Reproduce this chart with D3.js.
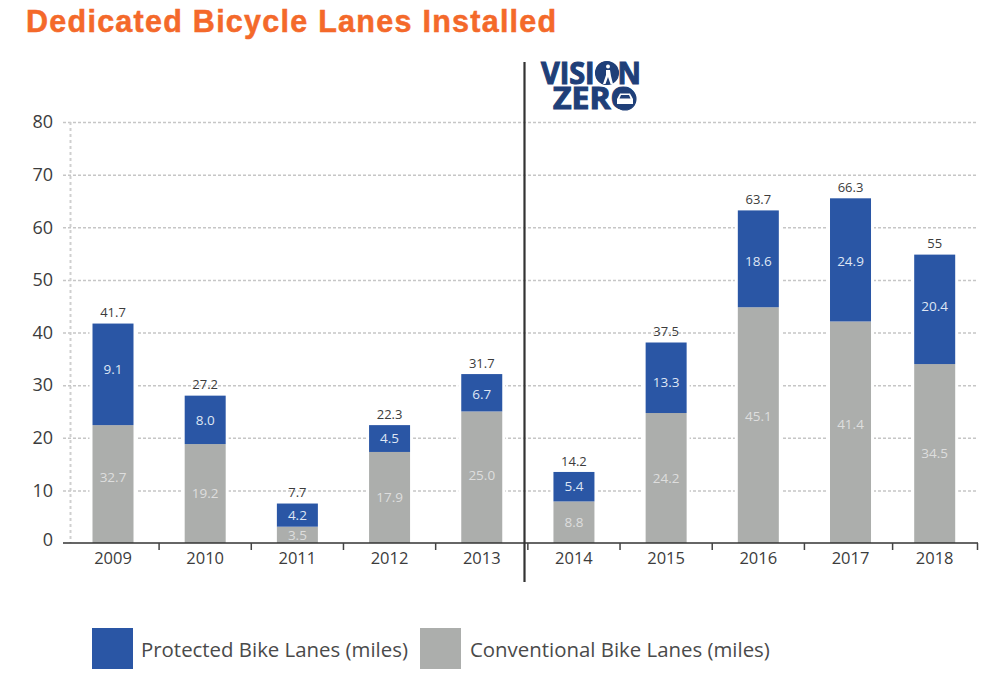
<!DOCTYPE html>
<html>
<head>
<meta charset="utf-8">
<script src="https://cdn.jsdelivr.net/npm/d3@7"></script>
<style>
  html, body { margin: 0; padding: 0; background: #fff; }
  text { font-family: "Open Sans", "Noto Sans", sans-serif; }
  .year-label text { font-size: 16.5px; fill: #3c3c3c; }
  .y-axis text { font-size: 18px; fill: #3c3c3c; }
  .total-label { font-size: 13px; fill: #3c3c3c; text-anchor: middle; }
  .inner-label { font-size: 13.5px; text-anchor: middle; }
  .legend-label { font-size: 20.4px; fill: #4a4a4a; }
</style>
</head>
<body>
<div id="chart"></div>
<script>
const years = ["2009", "2010", "2011", "2012", "2013", "2014", "2015", "2016", "2017", "2018"];

// segment heights as drawn in the picture (2009 does not agree with its printed label)
const protectedMiles = [19.3, 9.2, 4.4, 5.1, 7.1, 5.6, 13.4, 18.4, 23.4, 20.8];
const conventionalMiles = [22.4, 18.8, 3.1, 17.3, 25.0, 7.9, 24.7, 44.8, 42.1, 34.0];

// labels as printed
const protectedLabels = ["9.1", "8.0", "4.2", "4.5", "6.7", "5.4", "13.3", "18.6", "24.9", "20.4"];
const conventionalLabels = ["32.7", "19.2", "3.5", "17.9", "25.0", "8.8", "24.2", "45.1", "41.4", "34.5"];
const totalLabels = ["41.7", "27.2", "7.7", "22.3", "31.7", "14.2", "37.5", "63.7", "66.3", "55"];

const yTicks = [0, 10, 20, 30, 40, 50, 60, 70, 80];
const seriesNames = ["Conventional", "Protected"];
const legendLabels = ["Protected Bike Lanes (miles)", "Conventional Bike Lanes (miles)"];

const width = 1000, height = 690;
const colors = {Protected: "#2a56a5", Conventional: "#acaeac"};
const navy = "#1f3f78";

const svg = d3.select("#chart")
  .append("svg")
    .attr("width", width)
    .attr("height", height)
    .style("display", "block");

// the last bar sits closer to 2017 than the regular spacing
const lastYearShift = -8;
const xPoint = d3.scalePoint().domain(years).range([113, 942.7]);
const x = d => xPoint(d) + (d === "2018" ? lastYearShift : 0);
const barWidth = 41;

const y = d3.scaleLinear().domain([0, 80]).range([543, 122]);

// title
svg.append("text")
    .attr("x", 26)
    .attr("y", 32)
    .style("font-family", "'Liberation Sans', sans-serif")
    .style("font-weight", "700")
    .style("font-size", "30.5px")
    .style("letter-spacing", "1.26px")
    .attr("fill", "#f4692a")
    .attr("stroke", "#f4692a")
    .attr("stroke-width", 0.5)
    .text("Dedicated Bicycle Lanes Installed");

// y axis and dotted grid
const gridRight = 978, gridLeft = 63;
const yAxis = svg.append("g")
    .attr("class", "y-axis")
    .attr("transform", `translate(${gridLeft},0)`)
    .call(d3.axisLeft(y).tickValues(yTicks).tickSize(0).tickPadding(10));
yAxis.select(".domain").remove();
// the 0 label sits a little above the baseline in the source
yAxis.selectAll(".tick").filter(d => d === 0).select("text").attr("y", -3);
yAxis.selectAll(".tick").filter(d => d > 0).append("line")
    .attr("x1", 0)
    .attr("x2", gridRight - gridLeft)
    .attr("stroke", "#c6c6c6")
    .attr("stroke-width", 1.5)
    .attr("stroke-dasharray", "3 2");

svg.append("line")
    .attr("x1", 70.5).attr("x2", 70.5)
    .attr("y1", y(80)).attr("y2", y(0))
    .attr("stroke", "#cfcfcf")
    .attr("stroke-width", 2)
    .attr("stroke-dasharray", "3 3");

// stacked bars
const rows = years.map((year, i) => ({
  year,
  Protected: protectedMiles[i],
  Conventional: conventionalMiles[i]
}));
const stacked = d3.stack().keys(seriesNames)(rows);

// white halo so the grid stops just short of each bar
svg.append("g").selectAll("rect")
  .data(rows)
  .join("rect")
    .attr("x", d => x(d.year) - barWidth / 2 - 3)
    .attr("width", barWidth + 6)
    .attr("y", d => y(d.Protected + d.Conventional))
    .attr("height", d => y(0) - y(d.Protected + d.Conventional))
    .attr("fill", "#fff");

svg.append("g").selectAll("g")
  .data(stacked)
  .join("g")
    .attr("fill", d => colors[d.key])
  .selectAll("rect")
  .data(d => d)
  .join("rect")
    .attr("x", d => x(d.data.year) - barWidth / 2)
    .attr("width", barWidth)
    .attr("y", d => y(d[1]))
    .attr("height", d => y(d[0]) - y(d[1]));

// printed labels do not always sit mid-segment in the source
const protectedNudge = {2009: -5, 2013: 2, 2015: 5, 2016: 2.5, 2017: 1.5, 2018: -3};
const conventionalNudge = {2009: -7, 2013: -2, 2016: -9, 2017: -8};

svg.append("g").selectAll("text")
  .data(rows)
  .join("text")
    .attr("class", "inner-label")
    .attr("x", d => x(d.year))
    .attr("y", d => y(d.Conventional + d.Protected / 2) + (protectedNudge[d.year] || 0))
    .attr("dy", "0.35em")
    .attr("fill", "#dfe6f4")
    .text((d, i) => protectedLabels[i]);

svg.append("g").selectAll("text")
  .data(rows)
  .join("text")
    .attr("class", "inner-label")
    .attr("x", d => x(d.year))
    .attr("y", d => y(d.Conventional / 2) + (conventionalNudge[d.year] || 0))
    .attr("dy", "0.35em")
    .attr("fill", "#dedede")
    .text((d, i) => conventionalLabels[i]);

svg.append("g").selectAll("text")
  .data(rows)
  .join("text")
    .attr("class", "total-label")
    .attr("x", d => x(d.year))
    .attr("y", d => y(d.Protected + d.Conventional) - 11)
    .attr("dy", "0.35em")
    .text((d, i) => totalLabels[i]);

// x axis: baseline, tick marks between the years, year labels
svg.append("line")
    .attr("x1", gridLeft).attr("x2", gridRight)
    .attr("y1", y(0)).attr("y2", y(0))
    .attr("stroke", "#333")
    .attr("stroke-width", 1.5);

const tickAt = years.slice(1).map((year, i) => (x(years[i]) + x(year)) / 2).concat([gridRight - 0.5]);
svg.append("g").selectAll("line")
  .data(tickAt)
  .join("line")
    .attr("x1", d => d).attr("x2", d => d)
    .attr("y1", y(0)).attr("y2", y(0) + 7)
    .attr("stroke", "#444")
    .attr("stroke-width", 1.5);

svg.append("g")
    .attr("class", "year-label")
  .selectAll("text")
  .data(years)
  .join("text")
    .attr("x", d => x(d))
    .attr("y", 558)
    .attr("dy", "0.35em")
    .attr("text-anchor", "middle")
    .text(d => d);

// Vision Zero divider
svg.append("line")
    .attr("x1", 524.5).attr("x2", 524.5)
    .attr("y1", 62).attr("y2", 582)
    .attr("stroke", "#333")
    .attr("stroke-width", 2.2);

// Vision Zero logo
const logo = svg.append("g")
    .style("font-family", "'Liberation Sans', sans-serif")
    .style("font-weight", "700")
    .style("font-size", "30px")
    .attr("fill", navy)
    .attr("stroke", navy)
    .attr("stroke-width", 1.1);
logo.append("text")
    .attr("x", 541).attr("y", 84)
    .attr("textLength", 100).attr("lengthAdjust", "spacingAndGlyphs")
    .text("VISION");
logo.append("text")
    .attr("x", 553).attr("y", 109)
    .attr("textLength", 83).attr("lengthAdjust", "spacingAndGlyphs")
    .text("ZERO");

// pedestrian inside the O of VISION
logo.append("circle").attr("cx", 607).attr("cy", 73).attr("r", 11.5);
logo.append("circle").attr("cx", 608).attr("cy", 66.5).attr("r", 2).attr("fill", "#fff").attr("stroke", "none");
logo.append("path")
    .attr("d", "M606,70L610,70L611,76L613,84L610.5,84L608,77L605.5,84L603,84L606,75Z")
    .attr("fill", "#fff").attr("stroke", "none");

// car inside the O of ZERO
logo.append("circle").attr("cx", 625).attr("cy", 99).attr("r", 11);
logo.append("path")
    .attr("d", "M617,104L617,99L620,93.5L630,93.5L633,99L633,104Z")
    .attr("fill", "#fff").attr("stroke", "none");
logo.append("path")
    .attr("d", "M621,95L629,95L630.5,98.5L619.5,98.5Z")
    .attr("fill", navy).attr("stroke", "none");

// legend
const legendSwatchX = [92, 420];
const legendKeys = ["Protected", "Conventional"];
const legend = svg.append("g").selectAll("g")
  .data(legendKeys)
  .join("g")
    .attr("transform", (d, i) => `translate(${legendSwatchX[i]},628)`);
legend.append("rect")
    .attr("width", 41)
    .attr("height", 41)
    .attr("fill", d => colors[d]);
legend.append("text")
    .attr("class", "legend-label")
    .attr("x", (d, i) => i === 0 ? 49 : 50)
    .attr("y", 22)
    .attr("dy", "0.35em")
    .text((d, i) => legendLabels[i]);
</script>
</body>
</html>
